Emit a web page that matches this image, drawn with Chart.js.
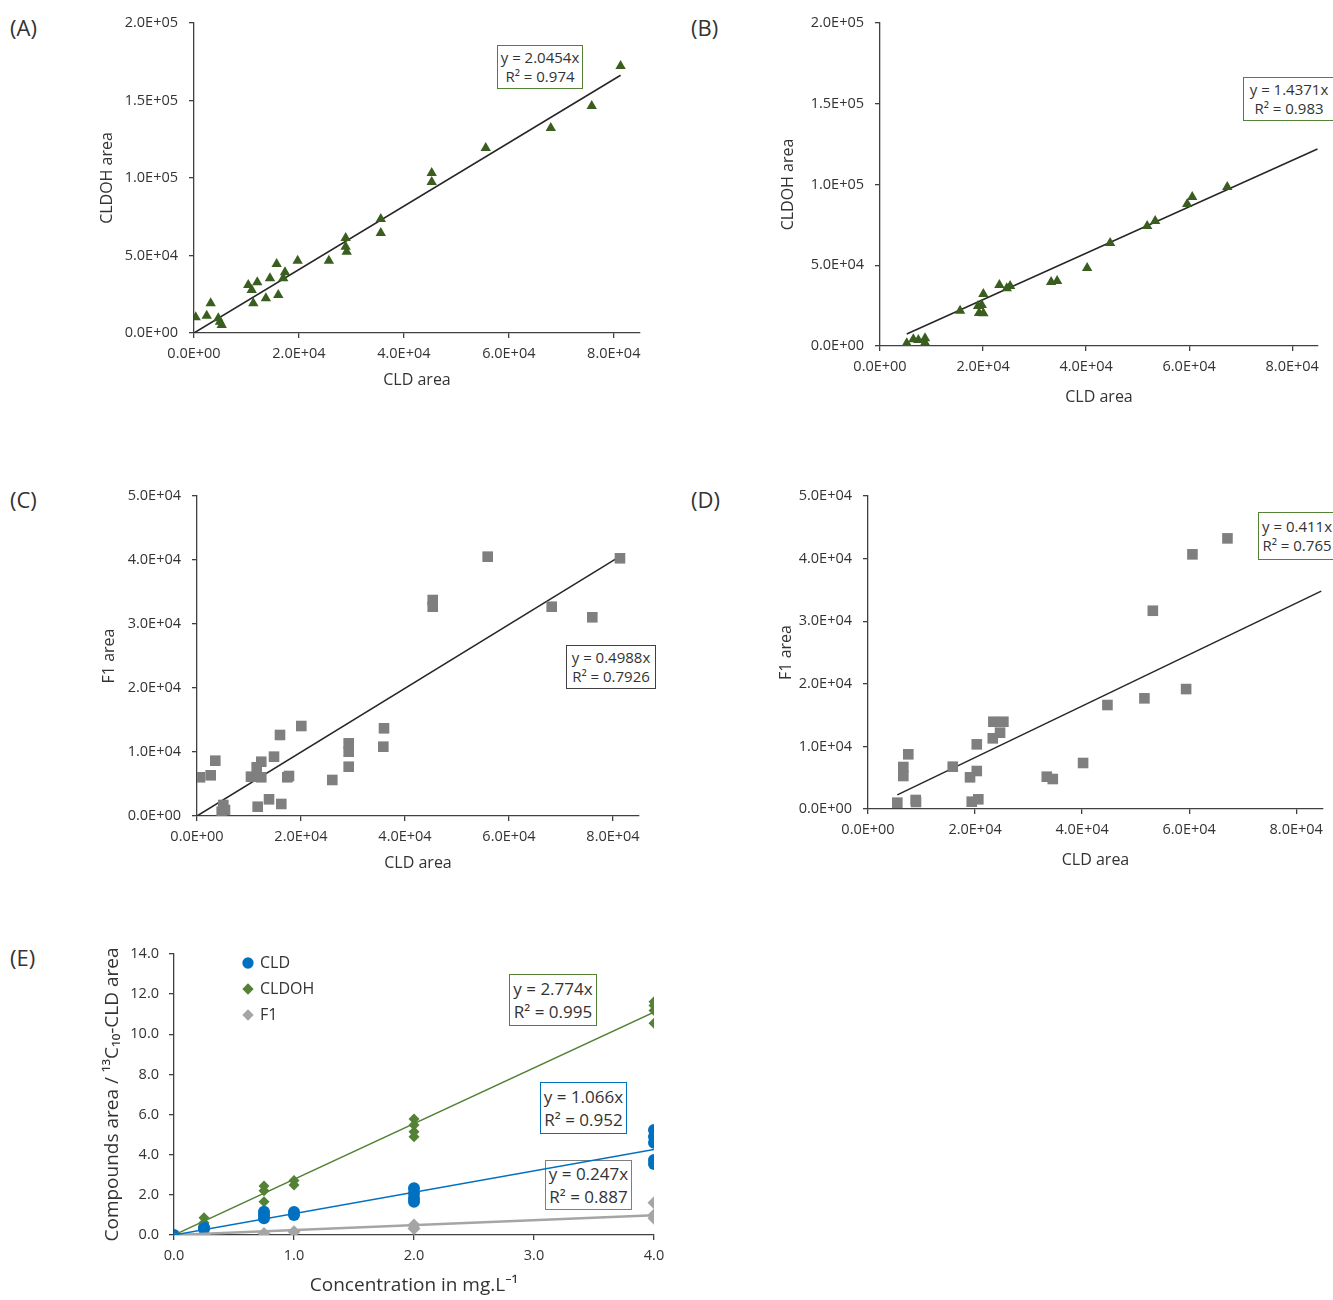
<!DOCTYPE html>
<html>
<head>
<meta charset="utf-8">
<script src="https://cdn.jsdelivr.net/npm/chart.js@4.4.1/dist/chart.umd.min.js"></script>
<style>
  body { margin: 0; width: 1333px; height: 1300px; position: relative; overflow: hidden; background: #fff;
         font-family: 'Open Sans', 'Noto Sans', sans-serif; color: #333; }
  canvas { position: absolute; }
  .lbl { position: absolute; font-size: 22px; line-height: 26px; }
  .eq { position: absolute; box-sizing: border-box; border: 1.5px solid; background: #fff;
        display: flex; flex-direction: column; justify-content: center; align-items: center; white-space: nowrap; }
  .s { font-size: 15px; line-height: 19px; }
  .b { font-size: 17px; line-height: 23px; }
</style>
</head>
<body>
<div class="lbl" style="left:10px;top:14px">(A)</div>
<div class="lbl" style="left:691px;top:14px">(B)</div>
<div class="lbl" style="left:10px;top:486px">(C)</div>
<div class="lbl" style="left:691px;top:486px">(D)</div>
<div class="lbl" style="left:10px;top:944px">(E)</div>

<div class="eq s" style="left:497px;top:45px;width:86px;height:44px;border-color:#548235"><div>y = 2.0454x</div><div>R² = 0.974</div></div>
<div class="eq s" style="left:1243px;top:77px;width:92px;height:44px;border-color:#548235"><div>y = 1.4371x</div><div>R² = 0.983</div></div>
<div class="eq s" style="left:566px;top:645px;width:90px;height:44px;border-color:#404040"><div>y = 0.4988x</div><div>R² = 0.7926</div></div>
<div class="eq s" style="left:1258px;top:512px;width:78px;height:48px;border-color:#548235"><div>y = 0.411x</div><div>R² = 0.765</div></div>
<div class="eq b" style="left:509px;top:974px;width:88px;height:52px;border-color:#548235"><div>y = 2.774x</div><div>R² = 0.995</div></div>
<div class="eq b" style="left:540px;top:1082px;width:87px;height:52px;border-color:#0070c0"><div>y = 1.066x</div><div>R² = 0.952</div></div>
<div class="eq b" style="left:545px;top:1160px;width:87px;height:50px;border-color:#7f7f7f"><div>y = 0.247x</div><div>R² = 0.887</div></div>

<script>
// (A) CLDOH vs CLD, set 1
const aX = [320, 2420, 3180, 4630, 4950, 5280, 10340, 11000, 12060, 11300, 13700, 14480, 15750, 16060, 17010, 17340, 19750, 25700, 28900, 28900, 29100, 35600, 35600, 45300, 45300, 55600, 68000, 75800, 81300];
const aY = [10100, 11200, 19200, 9500, 7300, 5200, 31000, 27700, 32700, 19200, 22400, 35300, 44500, 24500, 35300, 39200, 46600, 46600, 61300, 55700, 52400, 73500, 64500, 103200, 97400, 119300, 132200, 146400, 172200];
// (B) CLDOH vs CLD, set 2
const bX = [5190, 6470, 7440, 8740, 8740, 15540, 19030, 20060, 19750, 20060, 19230, 23170, 24600, 25250, 33210, 34370, 40200, 44660, 51850, 53400, 59620, 60590, 67390];
const bY = [1670, 4150, 3720, 4770, 2040, 21860, 24770, 32200, 25390, 20250, 20430, 37770, 35730, 37150, 39630, 40250, 48300, 63780, 74300, 77400, 87900, 92260, 98450];
// (C) F1 vs CLD, set 1
const cX = [580, 2630, 3520, 5060, 4750, 5380, 10380, 11480, 12360, 12360, 14810, 15960, 20060, 17360, 17690, 11670, 13850, 16210, 26020, 29170, 29170, 29170, 35960, 35830, 55900, 45330, 45330, 68210, 76020, 81340];
const cY = [6050, 6360, 8640, 1720, 670, 940, 6140, 7610, 8480, 6050, 9270, 12660, 14060, 6050, 6250, 1450, 2610, 1880, 5630, 11360, 10050, 7700, 13700, 10830, 40520, 33750, 32700, 32700, 31050, 40270];
// (D) F1 vs CLD, set 2
const dX = [5480, 8910, 8970, 6600, 6600, 7530, 15830, 20320, 20320, 19060, 19380, 20610, 23420, 25290, 24670, 23310, 33400, 34520, 40180, 44730, 51640, 59430, 53210, 60610, 67150];
const dY = [1010, 1440, 1120, 6710, 5270, 8740, 6760, 10330, 6070, 5060, 1170, 1550, 13940, 13940, 12190, 11290, 5160, 4790, 7350, 16610, 17680, 19160, 31670, 40680, 43230];
// trendlines: slope and x range drawn
const slopes = { A: 2.0454, B: 1.4371, C: 0.4988, D: 0.411 };
const ranges = { A: [0, 81300], B: [5190, 84900], C: [0, 81340], D: [5480, 84670] };
// tick values
const cldTicks = [0, 20000, 40000, 60000, 80000];
const cldohTicks = [0, 50000, 100000, 150000, 200000];
const f1Ticks = [0, 10000, 20000, 30000, 40000, 50000];

// (E) calibration
const eSeries = ['CLD', 'CLDOH', 'F1'];
const eCldX = [0, 0.25, 0.25, 0.75, 0.75, 0.75, 1, 1, 2, 2, 2, 2, 4, 4, 4, 4, 4];
const eCldY = [0, 0.3, 0.38, 1.16, 1.0, 0.83, 1.15, 1.0, 2.33, 2.08, 1.83, 1.66, 5.23, 4.9, 4.6, 3.74, 3.54];
const eOhX = [0, 0.25, 0.25, 0.75, 0.75, 0.75, 1, 1, 2, 2, 2, 2, 4, 4, 4, 4];
const eOhY = [0, 0.86, 0.61, 2.44, 2.21, 1.66, 2.71, 2.49, 5.78, 5.48, 5.15, 4.9, 11.62, 11.43, 11.18, 10.55];
const eF1X = [0, 0.25, 0.75, 1, 2, 2, 4, 4, 4];
const eF1Y = [0, 0.02, 0.08, 0.16, 0.5, 0.33, 1.61, 1.0, 0.83];
const eSlopes = [1.066, 2.774, 0.247];
const eXTicks = [0, 1, 2, 3, 4];
const eYTicks = [0, 2, 4, 6, 8, 10, 12, 14];

const axisColor = '#404040';
const textColor = '#333';
const font = "'Open Sans', 'Noto Sans', sans-serif";
Chart.defaults.font.family = font;
Chart.defaults.color = textColor;

const fmtSci = v => {
  const [m, e] = Number(v).toExponential(1).split('e');
  const n = parseInt(e, 10);
  return m + 'E' + (n < 0 ? '-' : '+') + String(Math.abs(n)).padStart(2, '0');
};
const pts = (xs, ys) => xs.map((x, i) => ({ x, y: ys[i] }));
const trend = (k, r) => r.map(x => ({ x, y: k * x }));

function axis(min, max, tickVals, title, fmt, titleSize, pad) {
  return {
    type: 'linear', min, max,
    border: { display: true, color: axisColor, width: 1.3 },
    grid: { display: true, drawOnChartArea: false, drawTicks: true, tickLength: 5, color: axisColor, lineWidth: 1.3 },
    ticks: { padding: pad, autoSkip: false, maxRotation: 0,
             font: { size: 14.5 }, color: textColor, callback: fmt },
    afterBuildTicks: s => { s.ticks = tickVals.map(v => ({ value: v })); },
    title: { display: true, text: title, font: { size: titleSize }, color: textColor, padding: 0 }
  };
}

function panel(area, yw, xh, datasets, xs, ys, extra) {
  const padT = 30, padR = 45;
  const left = area.l - yw, top = area.t - padT;
  const c = document.createElement('canvas');
  c.width = Math.round(area.r + padR - left);
  c.height = Math.round(area.b + xh - top);
  c.style.left = left + 'px';
  c.style.top = top + 'px';
  document.body.appendChild(c);
  xs.afterFit = s => { s.height = xh; };
  ys.afterFit = s => { s.width = yw; };
  return new Chart(c, {
    type: 'scatter',
    data: { datasets },
    options: Object.assign({
      responsive: false, animation: false, events: [],
      layout: { padding: { top: padT, right: padR, left: 0, bottom: 0 } },
      plugins: { legend: { display: false }, tooltip: { enabled: false } },
      scales: { x: xs, y: ys }
    }, extra || {}),
    plugins: (extra && extra.inline) || []
  });
}

const tri = (data) => ({ data, pointStyle: 'triangle', pointRadius: 6, backgroundColor: '#3a5e1f', borderColor: '#3a5e1f', borderWidth: 0 });
const sq = (data) => ({ data, pointStyle: 'rect', pointRadius: 7.5, backgroundColor: '#7f7f7f', borderColor: '#7f7f7f', borderWidth: 0 });
const tl = (data, color, w) => ({ data, showLine: true, pointRadius: 0, borderColor: color, borderWidth: w, fill: false });

panel({ l: 194, r: 640, t: 23, b: 333 }, 96, 57,
  [tri(pts(aX, aY)), tl(trend(slopes.A, ranges.A), '#262626', 1.5)],
  axis(0, 85000, cldTicks, 'CLD area', fmtSci, 16, 7), axis(0, 200000, cldohTicks, 'CLDOH area', fmtSci, 16, 11));

panel({ l: 880, r: 1318, t: 23, b: 346 }, 101, 61,
  [tri(pts(bX, bY)), tl(trend(slopes.B, ranges.B), '#262626', 1.5)],
  axis(0, 85000, cldTicks, 'CLD area', fmtSci, 16, 7), axis(0, 200000, cldohTicks, 'CLDOH area', fmtSci, 16, 11));

panel({ l: 197, r: 639, t: 496, b: 816 }, 97, 57,
  [sq(pts(cX, cY)), tl(trend(slopes.C, ranges.C), '#262626', 1.5)],
  axis(0, 85000, cldTicks, 'CLD area', fmtSci, 16, 7), axis(0, 50000, f1Ticks, 'F1 area', fmtSci, 16, 11));

panel({ l: 868, r: 1322.5, t: 496, b: 809 }, 91, 61,
  [sq(pts(dX, dY)), tl(trend(slopes.D, ranges.D), '#262626', 1.5)],
  axis(0, 85000, cldTicks, 'CLD area', fmtSci, 16, 7), axis(0, 50000, f1Ticks, 'F1 area', fmtSci, 16, 11));

// legend placed inside the plot, top-left
const legendPos = {
  id: 'legendPos',
  afterLayout(chart) {
    const lg = chart.legend;
    if (!lg) return;
    const w = lg.width, h = lg.height;
    lg.left = chart.chartArea.left + 60;
    lg.top = chart.chartArea.top - 9;
    lg.right = lg.left + w;
    lg.bottom = lg.top + h;
  }
};

const eColors = ['#0070c0', '#548235', '#a5a5a5'];
const eX = [eCldX, eOhX, eF1X];
const eY = [eCldY, eOhY, eF1Y];
const eStyles = [['circle', 6], ['rectRot', 5.5], ['rectRot', 6.5]];
const eData = eSeries.map((name, i) => ({
  label: name, data: pts(eX[i], eY[i]), pointStyle: eStyles[i][0], pointRadius: eStyles[i][1],
  backgroundColor: eColors[i], borderColor: eColors[i], borderWidth: 0
}));
const eLines = eSeries.map((name, i) => tl(trend(eSlopes[i], [eXTicks[0], eXTicks[eXTicks.length - 1]]), eColors[i], i === 2 ? 2.5 : 1.5));

panel({ l: 174, r: 654, t: 954, b: 1235 }, 73, 62,
  [eLines[0], eLines[1], eLines[2], ...eData],
  axis(0, 4, eXTicks, 'Concentration in mg.L⁻¹', v => v.toFixed(1), 19, 7),
  axis(0, 14, eYTicks, 'Compounds area / ¹³C₁₀-CLD area', v => v.toFixed(1), 19, 10),
  {
    plugins: {
      tooltip: { enabled: false },
      legend: {
        display: true, position: 'chartArea', align: 'start',
        labels: {
          usePointStyle: true, boxWidth: 8, boxHeight: 8, padding: 10,
          font: { size: 16 }, color: textColor,
          filter: item => item.datasetIndex >= 3
        }
      }
    },
    inline: [legendPos]
  });
</script>
</body>
</html>
